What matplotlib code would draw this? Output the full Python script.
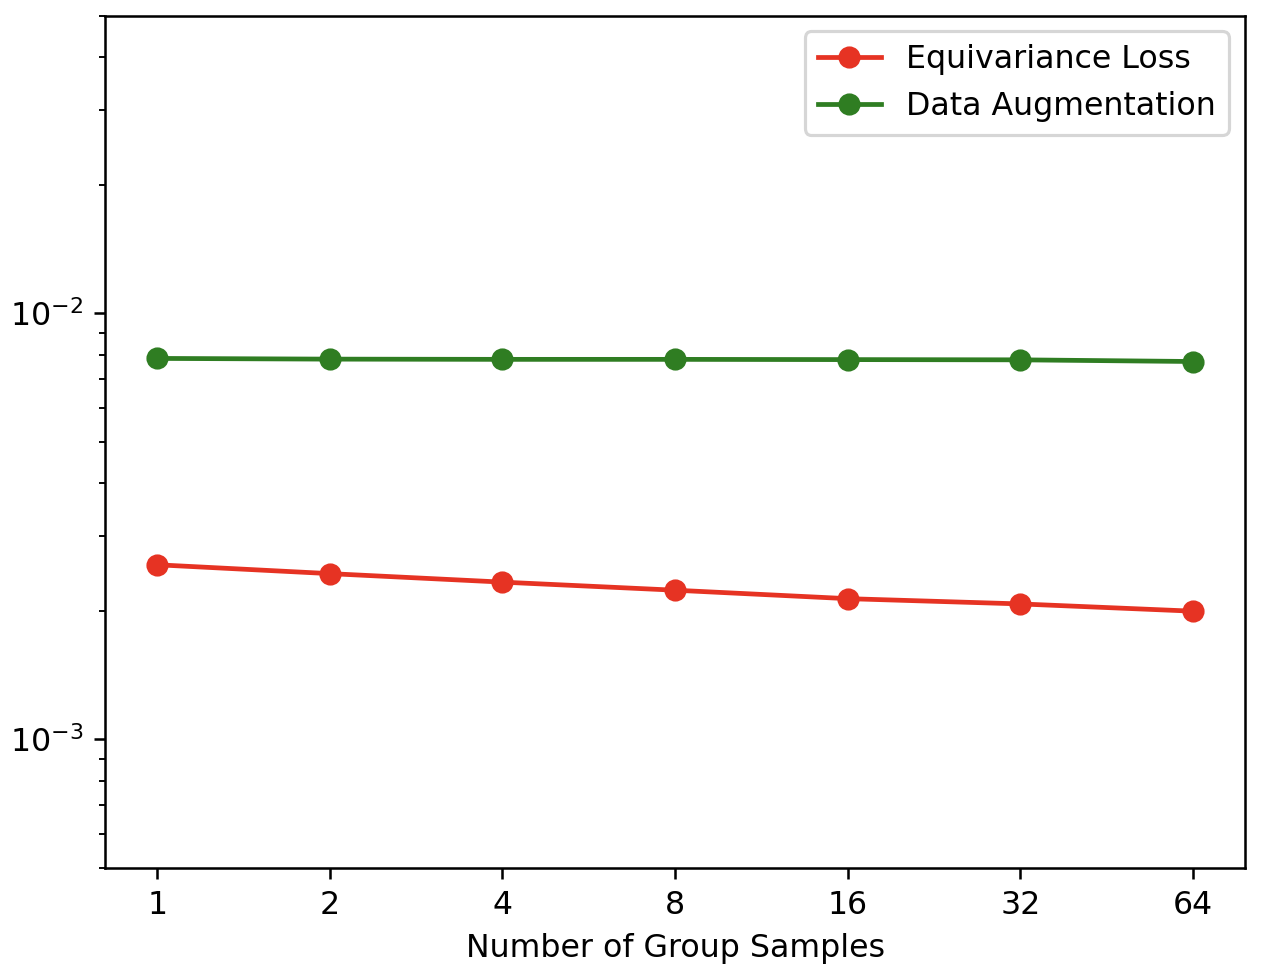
import numpy as np
import matplotlib
matplotlib.use('Agg')
import matplotlib.pyplot as plt

group_samples = [1, 2, 4, 8, 16, 32, 64]
equivariance_loss = [0.00257, 0.00245, 0.00234, 0.00224, 0.00214, 0.00208, 0.00200]
data_augmentation = [0.00784, 0.00781, 0.00780, 0.00780, 0.00779, 0.00778, 0.00771]


def main():
    fig = plt.figure(figsize=(1270 / 228, 976 / 228), dpi=228)
    ax = fig.add_axes([0.083, 0.111, 0.897, 0.873])
    x = np.arange(len(group_samples))
    ax.plot(x, equivariance_loss, color='#e63323', marker='o', label='Equivariance Loss')
    ax.plot(x, data_augmentation, color='#2f7d22', marker='o', label='Data Augmentation')
    ax.set_yscale('log')
    ax.set_ylim(5e-4, 5e-2)
    ax.set_xticks(x)
    ax.set_xticklabels([str(g) for g in group_samples])
    ax.set_xlabel('Number of Group Samples')
    ax.legend(loc='upper right')
    fig.savefig('out.png')


if __name__ == '__main__':
    main()
